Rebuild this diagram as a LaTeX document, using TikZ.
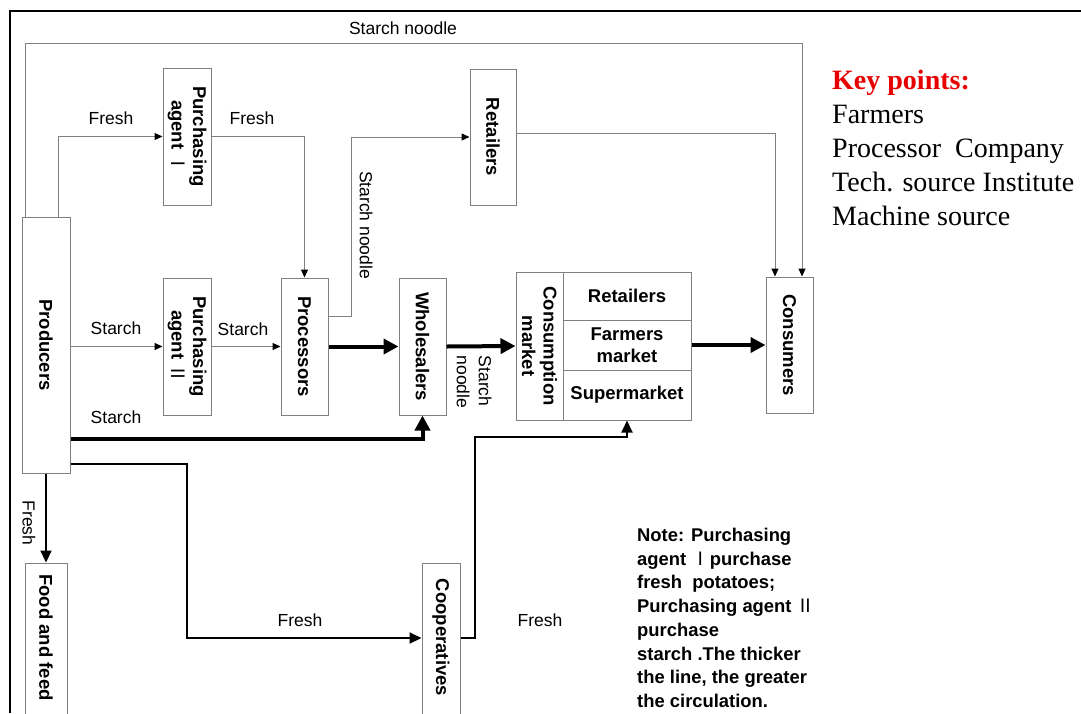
\documentclass[tikz,border=0pt]{standalone}
\usepackage{fontspec}
\setmainfont{Liberation Sans}
\newfontfamily\keyfont{Liberation Serif}
\newfontfamily\cjk{Noto Sans CJK SC}
\usetikzlibrary{arrows.meta}

\definecolor{boxgray}{RGB}{128,128,128}
\definecolor{keyred}{RGB}{230,0,0}

\tikzset{
  box/.style={draw=boxgray, line width=1pt, inner sep=0pt},
  vtext/.style={rotate=-90, inner sep=0pt, align=center,
    font=\fontsize{18.5}{21.5}\selectfont\bfseries},
  htext/.style={inner sep=0pt, align=center,
    font=\fontsize{18.5}{21.5}\selectfont\bfseries},
  lab/.style={inner sep=0pt, font=\fontsize{17.5}{22}\selectfont},
  thinflow/.style={draw=boxgray, line width=1pt,
    -{Triangle[length=8pt,width=7pt,color=black]}},
  midflow/.style={line width=2pt, -{Triangle[length=12pt,width=11pt]}},
  heavyflow/.style={line width=4pt, -{Triangle[length=15pt,width=15pt]}},
}
\newcommand{\romI}{{\cjk\mdseries Ⅰ}}
\newcommand{\romII}{{\cjk\mdseries Ⅱ}}

\begin{document}
\begin{tikzpicture}[x=1pt, y=-1pt]
    \useasboundingbox (0,0) rectangle (1081,713);
    \clip (0,0) rectangle (1081,713);
    \draw[line width=2pt] (10,713) -- (10,11) -- (1081,11);

    % boxes
    \node[box, minimum width=48, minimum height=256] (prod) at (46,345) {};
    \node[box, minimum width=48, minimum height=137] (pa1) at (187,136.5) {};
    \node[box, minimum width=46, minimum height=136] (ret) at (493,137) {};
    \node[box, minimum width=48, minimum height=137] (pa2) at (187,346.5) {};
    \node[box, minimum width=47, minimum height=137] (proc) at (304.5,346.5) {};
    \node[box, minimum width=47, minimum height=137] (whole) at (422.5,346.5) {};
    \node[box, minimum width=47, minimum height=148] (cmhead) at (539.5,346) {};
    \node[box, minimum width=128, minimum height=48] (cmret) at (627,296) {};
    \node[box, minimum width=128, minimum height=50] (cmfar) at (627,345) {};
    \node[box, minimum width=128, minimum height=50] (cmsup) at (627,395) {};
    \node[box, minimum width=47, minimum height=136] (cons) at (789.5,345) {};
    \node[box, minimum width=42, minimum height=160] (food) at (46,643) {};
    \node[box, minimum width=38, minimum height=160] (coop) at (441,643) {};

    % box texts
    \node[vtext] (prodtxt) at (prod) {Producers};
    \node[vtext] (pa1txt) at (pa1) {Purchasing\\agent \romI};
    \node[vtext] (rettxt) at (ret) {Retailers};
    \node[vtext] (pa2txt) at (pa2) {Purchasing\\agent \romII};
    \node[vtext] (proctxt) at (proc) {Processors};
    \node[vtext] (wholetxt) at (whole) {Wholesalers};
    \node[vtext] (cmtxt) at (cmhead) {Consumption\\market};
    \node[htext] (cmrettxt) at (cmret) {Retailers};
    \node[htext] (cmfartxt) at (cmfar) {Farmers\\market};
    \node[htext] (cmsuptxt) at (cmsup) {Supermarket};
    \node[vtext] (constxt) at (cons) {Consumers};
    \node[vtext] (foodtxt) at (46,637.5) {Food and feed};
    \node[vtext] (cooptxt) at (441,637.5) {Cooperatives};

    % connectors
    \coordinate (topr) at (802,43);
    \draw[thinflow] ([xshift=4pt]prod.north west) |- (topr) -- (topr |- cons.north);
    \draw[thinflow] ([xshift=12pt]prod.north) |- (pa1.west);
    \draw[thinflow] (pa1.east) -| (proc.north);
    \draw[thinflow] ([yshift=30.5pt]proc.east) -- ++(23,0) |- (ret.west);
    \draw[thinflow] ([yshift=4pt]ret.east) -| ([xshift=-14.5pt]cons.north);
    \draw[thinflow] (prod.east |- pa2.west) -- (pa2.west);
    \draw[thinflow] (pa2.east) -- (proc.west);
    \draw[heavyflow] (proc.east) -- (whole.west);
    \draw[heavyflow] (whole.east) -- (cmhead.west);
    \draw[heavyflow] (cmfar.east) -- (cons.west);
    \draw[heavyflow] ([yshift=-94pt]prod.east) -| (whole.south);
    \coordinate (cin) at ([yshift=5pt]coop.west);
    \draw[midflow] ([yshift=-119pt]prod.east) -| (pa2.south |- cin) -- (cin);
    \coordinate (cout) at ([yshift=5pt]coop.east);
    \draw[midflow] (cout) -- ++(14,0) |- ([yshift=-16pt]cmsup.south) -- (cmsup.south);
    \draw[midflow] (prod.south) -- (food.north);

    % flow labels
    \node[lab] (lbltop) at (403,28) {Starch noodle};
    \node[lab] (lblf1) at (111,118) {Fresh};
    \node[lab] (lblf2) at (252,118) {Fresh};
    \node[lab, rotate=-90] (lbln1) at (366,225) {Starch noodle};
    \node[lab] (lbls1) at (116,328) {Starch};
    \node[lab] (lbls2) at (243,329) {Starch};
    \node[lab, rotate=-90, align=left] (lbln2) at (474,382) {Starch\\noodle};
    \node[lab] (lbls3) at (116,417) {Starch};
    \node[lab, rotate=-90] (lblf3) at (29,523) {Fresh};
    \node[lab] (lblf4) at (300,620) {Fresh};
    \node[lab] (lblf5) at (540,620) {Fresh};

    % notes
    \node[anchor=north west, inner sep=0pt, align=left,
      font=\keyfont\fontsize{28}{34}\selectfont] (keys) at (832,70)
      {\textcolor{keyred}{\bfseries Key points:}\\Farmers\\Processor~~Company\\Tech. source Institute\\Machine source};
    \node[anchor=north west, inner sep=0pt, align=left,
      font=\fontsize{18.4}{23.7}\selectfont\bfseries] (note) at (637,528)
      {Note: Purchasing\\agent~\romI purchase\\fresh~~potatoes;\\Purchasing agent \romII\\purchase\\starch .The thicker\\the line, the greater\\the circulation.};
\end{tikzpicture}
\end{document}
